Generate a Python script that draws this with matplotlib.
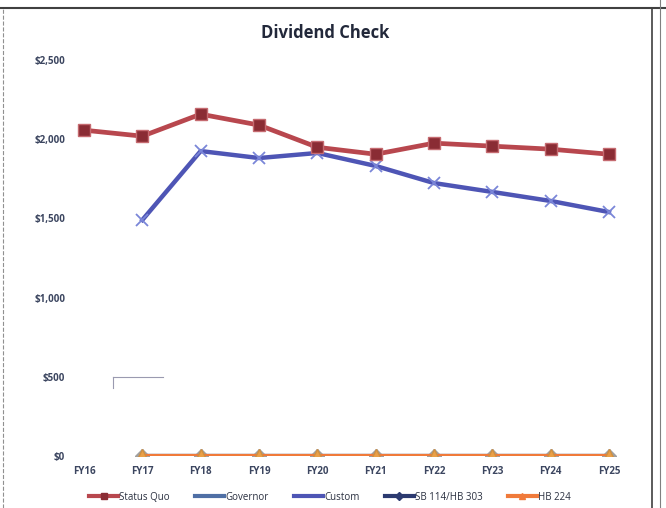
import matplotlib.pyplot as plt
from matplotlib.lines import Line2D

years = ["FY16", "FY17", "FY18", "FY19", "FY20", "FY21", "FY22", "FY23", "FY24", "FY25"]
status_quo = [2057, 2019, 2158, 2089, 1949, 1905, 1975, 1956, 1937, 1905]
custom = [None, 1490, 1925, 1881, 1913, 1831, 1723, 1667, 1610, 1540]
governor = [None, 0, 0, 0, 0, 0, 0, 0, 0, 0]
sb114 = [None, 0, 0, 0, 0, 0, 0, 0, 0, 0]
hb224 = [None, 0, 0, 0, 0, 0, 0, 0, 0, 0]
y_ticks = [0, 500, 1000, 1500, 2000, 2500]
y_labels = ["$0", "$500", "$1,000", "$1,500", "$2,000", "$2,500"]


def to_xy(vals):
    xs = [i for i, v in enumerate(vals) if v is not None]
    ys = [v for v in vals if v is not None]
    return xs, ys


plt.rcParams['font.family'] = ['Open Sans', 'DejaVu Sans']
fig = plt.figure(figsize=(6.66, 5.08), dpi=100)
W, H = 666, 508
ax = fig.add_axes([66.5 / W, 52 / H, 560 / W, 427.7 / H])

txt = '#3c4660'
x, y = to_xy(governor)
ax.plot(x, y, color='#4f6fa5', lw=3, marker='^', ms=10, mfc='#8a9ab8', mec='#8a9ab8', zorder=2)
x, y = to_xy(sb114)
ax.plot(x, y, color='#2c3a70', lw=3, marker='D', ms=7, mfc='#a0a0a0', mec='#a0a0a0', zorder=2)
x, y = to_xy(hb224)
ax.plot(x, y, color='#f07a3a', lw=3, marker='^', ms=10, mfc='#eaa048', mec='#d09040', zorder=3)
x, y = to_xy(custom)
ax.plot(x, y, color='#4e55b5', lw=3.2, marker='x', ms=9, mew=1.3, mec='#7a86d8', zorder=4)
x, y = to_xy(status_quo)
ax.plot(x, y, color='#b8474e', lw=3.4, marker='s', ms=8, mfc='#8a2c34', mec='#c56a70', mew=1, zorder=5)

# stray short line near $500
ax.plot([0.5, 1.35], [500, 500], color='#9a9ab0', lw=0.8)
ax.plot([0.5, 0.5], [500, 430], color='#9a9ab0', lw=0.8)

ax.set_xlim(-0.3, 9.3)
ax.set_ylim(0, 2700)
ax.set_xticks(range(len(years)))
ax.set_xticklabels(years, fontsize=7, color=txt, fontweight='bold')
ax.set_yticks(y_ticks)
ax.set_yticklabels(y_labels, fontsize=7, color=txt, fontweight='bold')
ax.tick_params(length=0, pad=7)
ax.tick_params(axis='y', pad=1)
for s in ax.spines.values():
    s.set_visible(False)

fig.text(325 / W, 1 - 33 / H, "Dividend Check", ha='center', va='center',
         fontsize=12, fontweight='bold', color='#22283a')

handles = [
    Line2D([], [], color='#b8474e', lw=3, marker='s', ms=5, mfc='#8a2c34', mec='#8a2c34'),
    Line2D([], [], color='#4f6fa5', lw=3),
    Line2D([], [], color='#4e55b5', lw=3),
    Line2D([], [], color='#2c3a70', lw=3, marker='D', ms=4),
    Line2D([], [], color='#f07a3a', lw=3, marker='^', ms=5),
]
names = ["Status Quo", "Governor", "Custom", "SB 114/HB 303", "HB 224"]
leg = fig.legend(handles, names, loc='center', bbox_to_anchor=(330 / W, 1 - 497 / H),
                 ncol=5, frameon=False, fontsize=7, handlelength=3,
                 handletextpad=0.1, columnspacing=2.6)
for t in leg.get_texts():
    t.set_color('#2a3040')

# sheet frame lines
fig.add_artist(Line2D([0, 1], [1 - 8 / H, 1 - 8 / H], color='#404040', lw=1.5))
fig.add_artist(Line2D([652 / W, 652 / W], [0, 1 - 8 / H], color='#404040', lw=1.2))
fig.add_artist(Line2D([660 / W, 660 / W], [0, 1], color='#808080', lw=0.8))
fig.add_artist(Line2D([3 / W, 3 / W], [0, 1 - 8 / H], color='#909090', lw=0.8, ls='--'))

fig.savefig('out.png', dpi=100)
